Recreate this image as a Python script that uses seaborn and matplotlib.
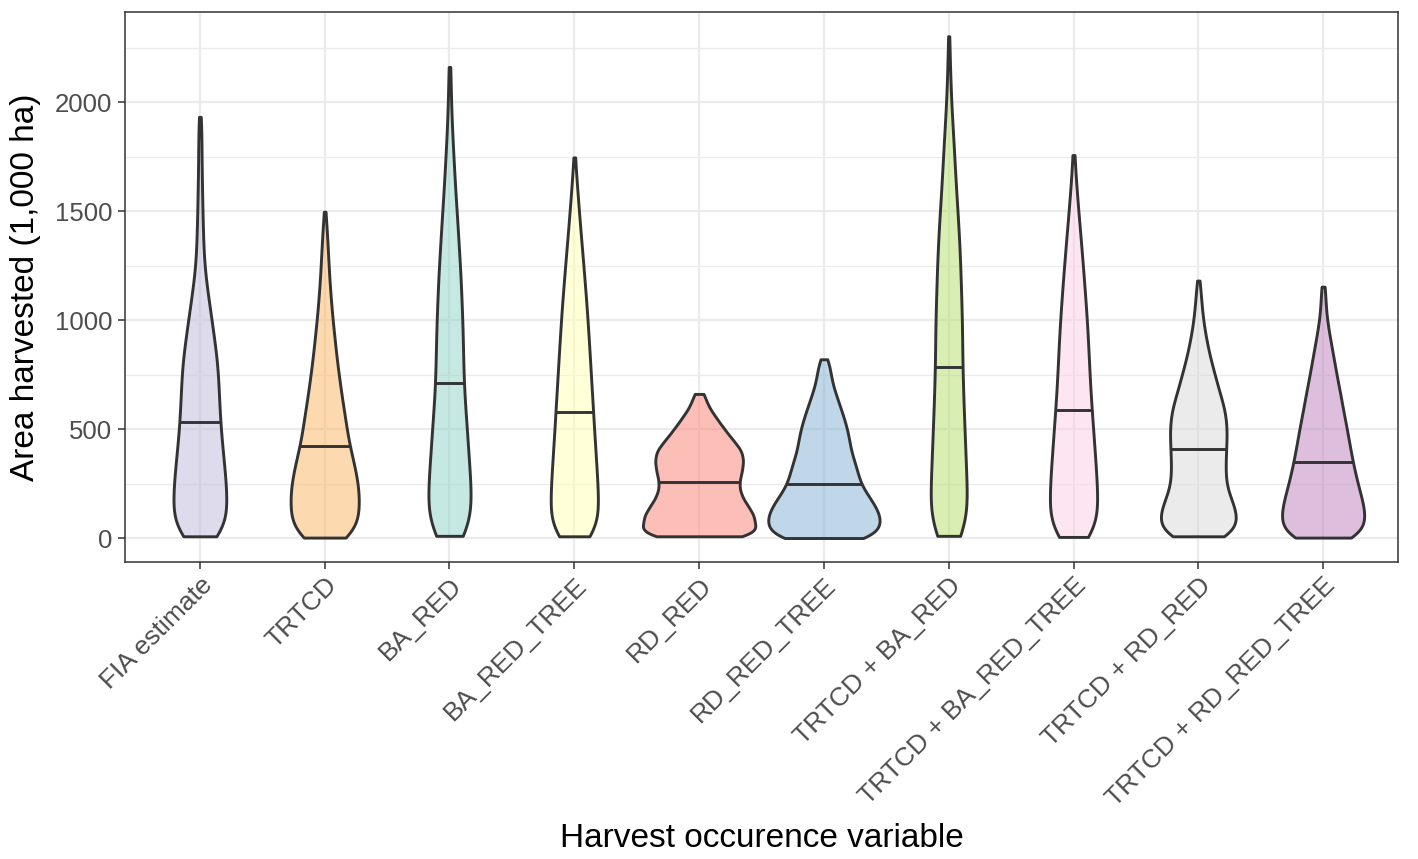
import numpy as np
import pandas as pd
import matplotlib
matplotlib.use("Agg")
import matplotlib.pyplot as plt
import seaborn as sns
from matplotlib.colors import to_rgba

# ---------------- data ----------------
categories = ["FIA estimate", "TRTCD", "BA_RED", "BA_RED_TREE", "RD_RED",
              "RD_RED_TREE", "TRTCD + BA_RED", "TRTCD + BA_RED_TREE",
              "TRTCD + RD_RED", "TRTCD + RD_RED_TREE"]
fill_colors = ["#BEBADA", "#FDB462", "#8DD3C7", "#FFFFB3", "#FB8072",
               "#80B1D3", "#B3DE69", "#FCCDE5", "#D9D9D9", "#BC80BD"]

# value levels (1,000 ha) of the frequency table below
levels = [0, 50, 100, 150, 200, 250, 300, 350, 400, 450, 500, 550, 600, 650,
          700, 750, 800, 850, 900, 950, 1000, 1050, 1100, 1150, 1200, 1250,
          1300, 1350, 1400, 1450, 1500, 1550, 1600, 1650, 1700, 1750, 1800,
          1850, 1900, 1950, 2000, 2050, 2100, 2150, 2200, 2250, 2300]

# observed minimum, maximum and median of every group
lows = [8, 2, 10, 8, 8, 0, 10, 5, 8, 2]
highs = [1932, 1497, 2161, 1746, 661, 820, 2302, 1757, 1181, 1153]
medians = [534, 424, 710, 580, 258, 246, 783, 585, 407, 347]

# frequencies per level for every group
counts_fia = [42, 46, 49, 50, 49, 48, 46, 44, 42, 40, 38, 37, 36, 35, 34, 34,
              32, 30, 27, 24, 22, 18, 16, 13, 10, 8, 7, 6, 6, 5, 5, 4, 4, 4,
              3, 3, 3, 3, 3]
counts_trtcd = [52, 57, 60, 61, 61, 59, 55, 51, 46, 41, 39, 36, 33, 30, 27,
                25, 22, 20, 18, 16, 14, 12, 11, 9, 8, 7, 6, 5, 4, 3]
counts_ba_red = [34, 37, 38, 39, 38, 38, 36, 34, 33, 32, 31, 29, 28, 26, 25,
                 25, 24, 24, 24, 23, 23, 22, 21, 20, 20, 19, 17, 16, 15, 14,
                 13, 11, 10, 9, 8, 7, 6, 5, 4, 3, 3, 2, 2, 2]
counts_ba_red_tree = [42, 45, 46, 47, 46, 45, 44, 42, 41, 40, 38, 37, 36, 35,
                      33, 32, 31, 30, 28, 27, 26, 24, 23, 21, 19, 18, 16, 14,
                      12, 11, 9, 7, 6, 4, 3]
counts_rd_red = [92, 112, 116, 100, 86, 82, 88, 92, 89, 70, 52, 36, 20, 11]
counts_rd_red_tree = [94, 108, 107, 97, 82, 69, 64, 58, 51, 48, 44, 38, 31,
                      24, 17, 13, 10]
counts_trtcd_ba_red = [31, 32, 33, 34, 33, 32, 31, 30, 30, 29, 28, 27, 27, 26,
                       25, 25, 24, 24, 24, 24, 24, 23, 22, 22, 21, 21, 20, 19,
                       18, 17, 16, 14, 13, 12, 11, 10, 9, 8, 7, 5, 4, 4, 3,
                       2, 2, 2]
counts_trtcd_ba_red_tree = [40, 44, 46, 47, 46, 45, 44, 42, 41, 39, 38, 36,
                            35, 33, 32, 31, 30, 29, 28, 27, 26, 24, 23, 21,
                            20, 18, 16, 15, 13, 11, 9, 8, 6, 4, 3, 2]
counts_trtcd_rd_red = [58, 70, 74, 68, 57, 51, 51, 51, 52, 53, 54, 52, 49, 42,
                       36, 31, 25, 20, 16, 12, 9, 7, 5, 4]
counts_trtcd_rd_red_tree = [68, 74, 77, 73, 68, 62, 58, 53, 50, 46, 43, 39,
                            35, 32, 28, 24, 21, 17, 14, 10, 7, 5, 4, 3]

all_counts = [counts_fia, counts_trtcd, counts_ba_red, counts_ba_red_tree,
              counts_rd_red, counts_rd_red_tree, counts_trtcd_ba_red,
              counts_trtcd_ba_red_tree, counts_trtcd_rd_red,
              counts_trtcd_rd_red_tree]

# ---------------- expand the frequency table ----------------
cat_col, val_col = [], []
for cat, lo, hi, cnt in zip(categories, lows, highs, all_counts):
    vals = [lo] + levels[1:len(cnt)]
    v = np.concatenate([np.repeat(vals, cnt), [hi]])
    val_col.extend(v.tolist())
    cat_col.extend([cat] * len(v))
df = pd.DataFrame({"variable": cat_col, "area": val_col})

# ---------------- style ----------------
sns.set_style("white")
plt.rcParams["font.family"] = ["Liberation Sans", "DejaVu Sans"]

EDGE = "#333333"
LW = 2.1
fig = plt.figure(figsize=(14.18, 8.59), dpi=100)
ax = fig.add_axes([125 / 1418, 1 - 562 / 859, 1273 / 1418, 550 / 859])

sns.violinplot(data=df, x="variable", y="area", order=categories,
               color="white", density_norm="area", cut=0, bw_adjust=0.75,
               gridsize=200, inner=None, width=0.9, linewidth=LW,
               linecolor=EDGE, saturation=1, ax=ax)

# semi transparent fills, and median segments across each violin
for coll in list(ax.collections):
    verts = coll.get_paths()[0].vertices
    xc = 0.5 * (verts[:, 0].min() + verts[:, 0].max())
    idx = int(round(xc))
    coll.set_facecolor(to_rgba(fill_colors[idx], 0.5))
    coll.set_edgecolor(EDGE)
    coll.set_linewidth(LW)
    coll.set_zorder(3)
    right = verts[verts[:, 0] >= idx]
    order = np.argsort(right[:, 1])
    hw = np.interp(medians[idx], right[order, 1], right[order, 0]) - idx
    ax.plot([idx - hw, idx + hw], [medians[idx], medians[idx]],
            color=EDGE, lw=LW, solid_capstyle="butt", zorder=4)

# ---------------- axes ----------------
ax.set_xlim(-0.6, 9.6)
ax.set_ylim(-110, 2413)
ax.set_yticks([0, 500, 1000, 1500, 2000])
ax.set_yticks([250, 750, 1250, 1750, 2250], minor=True)
ax.set_axisbelow(True)
ax.grid(True, which="major", color="#EBEBEB", lw=1.6)
ax.grid(True, which="minor", axis="y", color="#EBEBEB", lw=0.9)
for s in ax.spines.values():
    s.set_color(EDGE)
    s.set_linewidth(1.1)

ax.tick_params(axis="both", which="major", length=5, width=1.1, color=EDGE,
               labelcolor="#4D4D4D", labelsize=18.5, direction="out",
               bottom=True, left=True)
ax.tick_params(axis="y", which="minor", length=0)
ax.tick_params(axis="y", pad=4)
ax.tick_params(axis="x", labelsize=19, pad=3)
plt.setp(ax.get_xticklabels(), rotation=45, ha="right", va="top",
         rotation_mode="anchor")

ax.set_xlabel("Harvest occurence variable", fontsize=24, color="black",
              labelpad=9)
ax.set_ylabel("Area harvested (1,000 ha)", fontsize=24, color="black",
              labelpad=10)

fig.savefig("out.png", dpi=100)
